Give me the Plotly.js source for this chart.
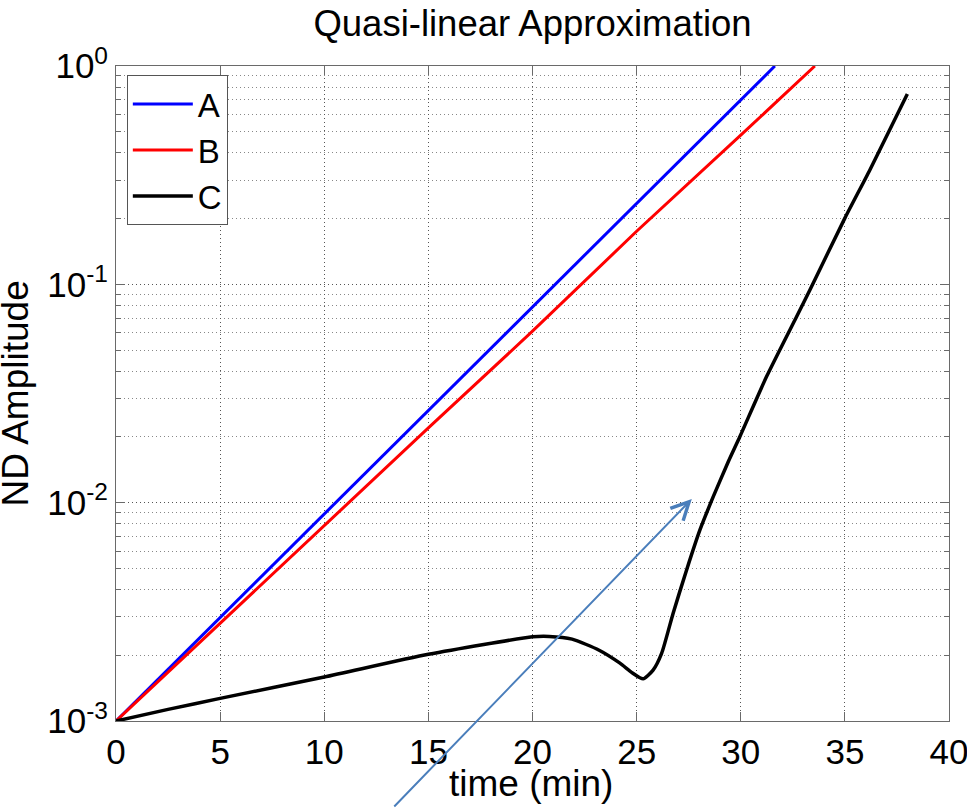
<!DOCTYPE html>
<html>
<head>
<meta charset="utf-8">
<script src="https://cdn.plot.ly/plotly-3.0.1.min.js"></script>
<style>
  html, body { margin: 0; padding: 0; background: #ffffff; }
  #chart { width: 967px; height: 808px; }
</style>
</head>
<body>
<div id="chart"></div>
<script>
// ---- Data ----
const seriesNames = ["A", "B", "C"];
const seriesColors = ["#0000ff", "#ff0000", "#000000"];

const timeA = [0, 5, 10, 15, 20, 25, 30, 31.64];
const ampA  = [0.001, 0.00298, 0.00887, 0.0264, 0.0788, 0.235, 0.698, 1.0];

const timeB = [0, 5, 10, 15, 20, 25, 30, 33.56];
const ampB  = [0.001, 0.00281, 0.00785, 0.0220, 0.0610, 0.175, 0.482, 1.0];

const timeC = [0, 2.5, 5, 10, 15, 20, 20.8, 21.9, 23.2, 24.2, 24.8, 25.31, 25.79, 26.2, 26.75, 27.4, 28.04, 28.68, 29.4, 29.95, 31.24, 32.68, 33.32, 35.0, 36.2, 38.0];
const ampC  = [0.001, 0.00113, 0.00127, 0.00159, 0.00202, 0.00243, 0.00244, 0.00237, 0.00211, 0.00184, 0.00166, 0.00156, 0.00171, 0.00204, 0.00311, 0.00492, 0.0075, 0.01065, 0.0154, 0.0200, 0.0378, 0.0711, 0.0942, 0.201, 0.334, 0.744];

const xTickVals = [0, 5, 10, 15, 20, 25, 30, 35, 40];
const yTickVals = [0.001, 0.01, 0.1, 1];
const yTickText = ["10<sup>-3</sup>", "10<sup>-2</sup>", "10<sup>-1</sup>", "10<sup>0</sup>"];
const yMinorVals = [];
[0.001, 0.01, 0.1].forEach(d => { for (let k = 2; k <= 9; k++) yMinorVals.push(+(d * k).toPrecision(3)); });

const titleText = "Quasi-linear Approximation";
const xTitle = "time (min)";
const yTitle = "ND Amplitude";

// arrow annotation (head in data coords, tail offset in px)
const arrowHead = { x: 27.65, y: 0.0104 };
const arrowTail = { dx: -299, dy: 309 };

// ---- Build traces ----
const xs = [timeA, timeB, timeC];
const ys = [ampA, ampB, ampC];
const widths = [3, 3, 3.5];
const traces = seriesNames.map((n, i) => ({
  x: xs[i], y: ys[i], name: n, type: "scatter", mode: "lines",
  line: { color: seriesColors[i], width: widths[i], shape: i === 2 ? "spline" : "linear", smoothing: 0.6 },
  cliponaxis: true
}));

const fontFam = "Arial, 'Liberation Sans', Helvetica, sans-serif";
const axisColor = "#6a6a6a";
const plotL = 116, plotR = 949, plotT = 66, plotB = 721;
const pxToPaperX = px => (px - plotL) / (plotR - plotL);
const pxToPaperY = py => (plotB - py) / (plotB - plotT);

const layout = {
  width: 967, height: 808,
  margin: { l: plotL, r: 967 - plotR, t: plotT, b: 808 - plotB },
  paper_bgcolor: "#ffffff", plot_bgcolor: "#ffffff",
  font: { family: fontFam, size: 35, color: "#000000" },
  title: { text: titleText, font: { size: 36.5, family: fontFam }, x: 0.5, xref: "paper",
           y: 1 - 23 / 808, yref: "container", yanchor: "middle" },
  showlegend: true,
  legend: {
    x: 0.013, y: 0.986, xanchor: "left", yanchor: "top",
    bgcolor: "#ffffff", bordercolor: "#555555", borderwidth: 1,
    font: { size: 33, family: fontFam }, itemwidth: 60, tracegroupgap: 0
  },
  xaxis: {
    range: [0, 40], tickmode: "array", tickvals: xTickVals,
    ticks: "inside", ticklen: 9, tickcolor: axisColor, tickwidth: 1,
    showline: true, linecolor: axisColor, linewidth: 1, mirror: "ticks",
    showgrid: true, gridcolor: "#555555", griddash: "1px,3px", gridwidth: 1,
    zeroline: false, tickfont: { size: 35 }, ticklabeloverflow: "allow",
    automargin: false, fixedrange: true
  },
  yaxis: {
    type: "log", range: [-3, 0], tickmode: "array", tickvals: yTickVals, ticktext: yTickText,
    ticks: "inside", ticklen: 9, tickcolor: axisColor, tickwidth: 1,
    showline: true, linecolor: axisColor, linewidth: 1, mirror: "ticks",
    showgrid: true, gridcolor: "#555555", griddash: "1px,3px", gridwidth: 1,
    zeroline: false, tickfont: { size: 35 }, ticklabeloverflow: "allow",
    minor: { tickmode: "array", tickvals: yMinorVals, ticks: "inside", ticklen: 5,
             tickcolor: axisColor, showgrid: true, gridcolor: "#888888", griddash: "1px,3px", gridwidth: 1 },
    automargin: false, fixedrange: true
  },
  annotations: [
    { // x axis title
      text: xTitle, xref: "paper", yref: "paper", x: pxToPaperX(531), y: pxToPaperY(783),
      xanchor: "center", yanchor: "middle", showarrow: false, font: { size: 37 }
    },
    { // y axis title
      text: yTitle, xref: "paper", yref: "paper", x: pxToPaperX(15), y: 0.5, textangle: -90,
      xanchor: "center", yanchor: "middle", showarrow: false, font: { size: 37 }
    },
    { // arrow
      x: arrowHead.x, y: Math.log10(arrowHead.y), xref: "x", yref: "y",
      ax: arrowTail.dx, ay: arrowTail.dy, text: "", showarrow: true,
      arrowhead: 5, arrowsize: 1.75, arrowwidth: 2, arrowcolor: "#4a7ebb", standoff: 0
    }
  ]
};

Plotly.newPlot("chart", traces, layout, { displayModeBar: false, staticPlot: true });
</script>
</body>
</html>
